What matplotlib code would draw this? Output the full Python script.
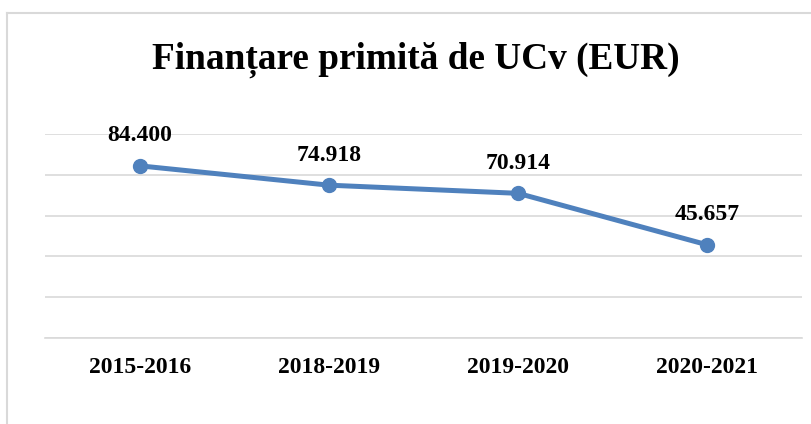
import matplotlib.pyplot as plt
from matplotlib.lines import Line2D

perioade = ["2015-2016", "2018-2019", "2019-2020", "2020-2021"]
finantare = [84400, 74918, 70914, 45657]
etichete = ["84.400", "74.918", "70.914", "45.657"]

W, H = 811, 424
plt.rcParams["font.family"] = ["Liberation Serif", "DejaVu Serif"]

fig = plt.figure(figsize=(W / 100, H / 100), dpi=100)
ax = fig.add_axes([45 / W, 1 - 338 / H, (802 - 45) / W, (338 - 134) / H])

x = range(len(perioade))
ax.plot(x, finantare, color="#4F81BD", linewidth=3.6, marker="o",
        markersize=10, solid_capstyle="round", zorder=3)
for xi, yi, t in zip(x, finantare, etichete):
    ax.annotate(t, (xi, yi), xytext=(0, 21.5), textcoords="offset points",
                ha="center", va="center", fontsize=17, fontweight="bold")

ax.set_xlim(-0.5, 3.5)
ax.set_ylim(0, 100000)
ax.set_yticks(range(0, 100001, 20000))
ax.set_yticklabels([])
ax.grid(axis="y", color="#d9d9d9", linewidth=1.2)
ax.set_axisbelow(True)
ax.tick_params(length=0)
ax.set_xticks(list(x))
ax.set_xticklabels(perioade, fontsize=17, fontweight="bold")
ax.tick_params(axis="x", pad=14)
for s in ["top", "left", "right"]:
    ax.spines[s].set_visible(False)
ax.spines["bottom"].set_color("#d9d9d9")
ax.spines["bottom"].set_linewidth(1.2)

fig.text(416 / W, 1 - 60 / H, "Finanțare primită de UCv (EUR)",
         ha="center", va="center", fontsize=26.8, fontweight="bold")

# chenarul graficului
fig.add_artist(Line2D([7 / W, 7 / W], [0, 1 - 13 / H], color="#d9d9d9", linewidth=1.5))
fig.add_artist(Line2D([7 / W, 1], [1 - 13 / H, 1 - 13 / H], color="#d9d9d9", linewidth=1.5))

fig.savefig("out.png", dpi=100)
